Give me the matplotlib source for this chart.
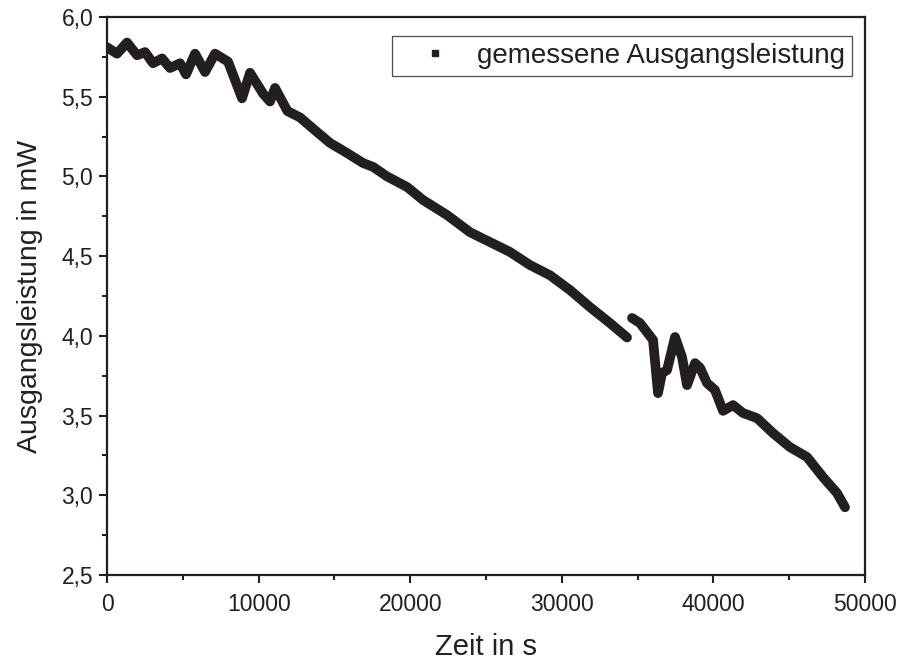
import numpy as np
import matplotlib
matplotlib.use('Agg')
import matplotlib.pyplot as plt
from matplotlib.ticker import MultipleLocator, FuncFormatter

t_seg1 = [0, 660, 1319, 1979, 2507, 3034, 3628, 4155, 4815, 5211, 5804, 6464,
          7123, 7980, 8904, 9432, 10289, 10751, 11081, 11900, 12730, 13587,
          14709, 15830, 16886, 17545, 18469, 19788, 20843, 22426, 23944,
          25263, 26582, 27901, 29220, 30540, 31859, 33178, 34299]
p_seg1 = [5.81, 5.77, 5.84, 5.76, 5.78, 5.71, 5.74, 5.68, 5.71, 5.64, 5.77, 5.655,
          5.77, 5.72, 5.49, 5.65, 5.52, 5.47, 5.555, 5.41, 5.37, 5.30,
          5.21, 5.147, 5.084, 5.06, 5.0, 4.934, 4.852, 4.758, 4.65,
          4.588, 4.526, 4.444, 4.38, 4.287, 4.18, 4.08, 3.99]

t_seg2 = [34629, 35157, 36014, 36344, 36608, 36938, 37466, 37927, 38257, 38785,
          39114, 39576, 40104, 40631, 41291, 41950, 42874, 43929, 45050, 46172,
          47227, 48151, 48679]
p_seg2 = [4.112, 4.08, 3.974, 3.641, 3.767, 3.785, 3.993, 3.867, 3.691, 3.829,
          3.80, 3.704, 3.66, 3.53, 3.566, 3.516, 3.484, 3.39, 3.302, 3.24,
          3.114, 3.014, 2.925]

ink = '#231f20'
plt.rcParams['font.family'] = ['Liberation Sans', 'DejaVu Sans']

fig = plt.figure(figsize=(9.01, 6.64), dpi=100)
ax = fig.add_axes([0.1188, 0.134, 0.8413, 0.8404])

ax.plot(t_seg1, p_seg1, color=ink, lw=7, solid_capstyle='round', solid_joinstyle='round')
ax.plot(t_seg2, p_seg2, color=ink, lw=7, solid_capstyle='round', solid_joinstyle='round')
# legend entry: the data are drawn as dense square points
ax.plot([], [], ls='none', marker='s', ms=4, color=ink, label='gemessene Ausgangsleistung')

ax.set_xlim(0, 50000)
ax.set_ylim(2.5, 6.0)
ax.xaxis.set_major_locator(MultipleLocator(10000))
ax.xaxis.set_minor_locator(MultipleLocator(5000))
ax.yaxis.set_major_locator(MultipleLocator(0.5))
ax.yaxis.set_minor_locator(MultipleLocator(0.25))
ax.yaxis.set_major_formatter(FuncFormatter(lambda v, p: ('%.1f' % v).replace('.', ',')))

for s in ax.spines.values():
    s.set_linewidth(1.6)
    s.set_color(ink)
ax.tick_params(which='major', direction='out', length=6, width=1.5, color=ink, labelcolor=ink)
ax.tick_params(which='minor', direction='out', length=3.5, width=1.5, color=ink)
ax.tick_params(axis='y', labelsize=16.5, pad=4)
ax.tick_params(axis='x', labelsize=16.5, pad=7)

ax.set_xlabel('Zeit in s', fontsize=21, color=ink, labelpad=12)
ax.set_ylabel('Ausgangsleistung in mW', fontsize=20.5, color=ink, labelpad=13)

leg = ax.legend(loc='upper right', bbox_to_anchor=(0.983, 0.966), borderaxespad=0,
                fancybox=False, frameon=True, fontsize=20, handlelength=2.6,
                handletextpad=0.22, borderpad=0.25, labelcolor=ink)
leg.get_frame().set_edgecolor(ink)
leg.get_frame().set_linewidth(0.9)

fig.savefig('out.png', dpi=100)
